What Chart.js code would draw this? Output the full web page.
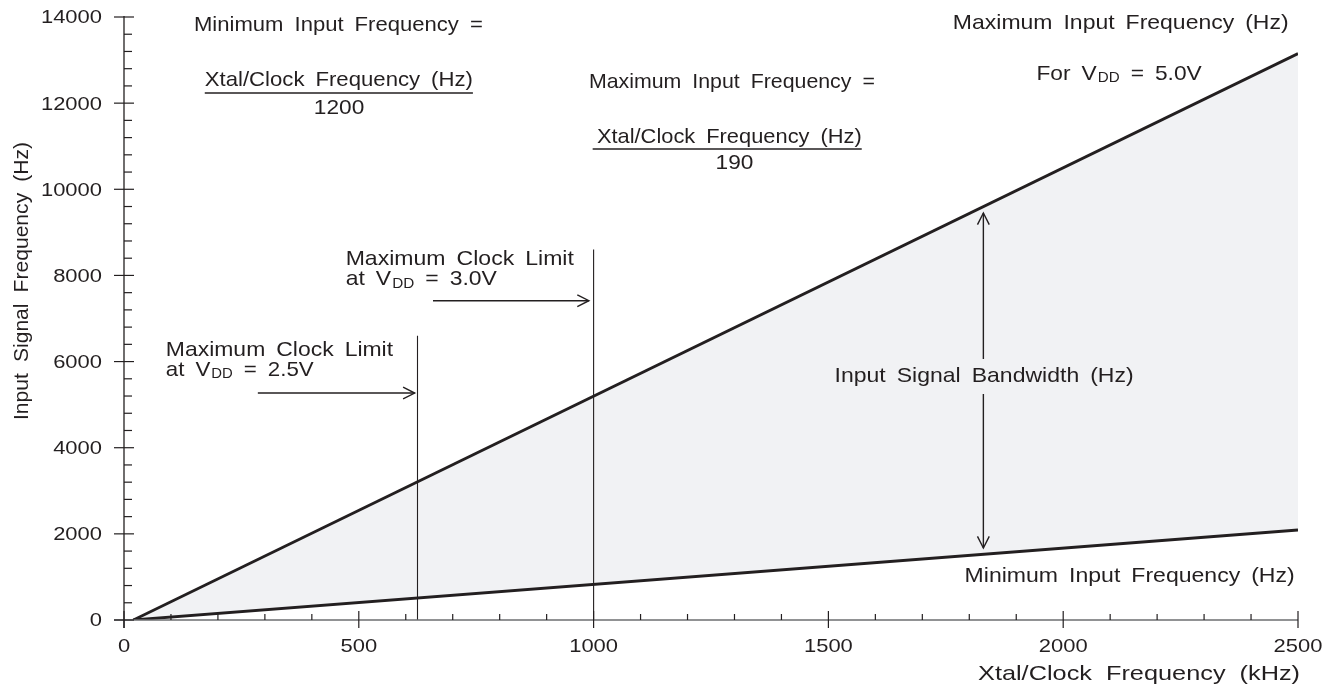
<!DOCTYPE html>
<html>
<head>
<meta charset="utf-8">
<script src="https://cdn.jsdelivr.net/npm/chart.js@4.4.1/dist/chart.umd.min.js"></script>
<style>
html, body { margin: 0; padding: 0; background: #fff; }
canvas { display: block; }
</style>
</head>
<body>
<canvas id="chart" width="1340" height="686"></canvas>
<script>
// values
const clockKHz = [20, 2500];
const maxInputHz = [0, 13150];
const minInputHz = [0, 2090];
const limit25KHz = [625, 625];
const limit25Hz = [0, 6600];
const limit30KHz = [1000, 1000];
const limit30Hz = [0, 8600];

const xTickValues = [0, 500, 1000, 1500, 2000, 2500];
const yTickValues = [0, 2000, 4000, 6000, 8000, 10000, 12000, 14000];
const xMinorStep = 100;
const yMinorStep = 400;

const ink = '#231f20';
const fam = '"Liberation Sans", Arial, sans-serif';

function pts(xs, ys) {
  return xs.map((x, i) => ({ x: x, y: ys[i] }));
}

// text in the figure is drawn a bit wide, with big gaps between words
function wordWidth(ctx, w, size) {
  const parts = w.split('_');
  ctx.font = size + 'px ' + fam;
  let wd = ctx.measureText(parts[0]).width;
  if (parts[1]) {
    ctx.font = Math.round(size * 0.68) + 'px ' + fam;
    wd += ctx.measureText(parts[1]).width + 1;
  }
  return wd;
}

function drawWords(ctx, text, x1, x2, yc, size, gap) {
  const words = text.split(' ');
  const widths = words.map(w => wordWidth(ctx, w, size));
  const total = widths.reduce((a, b) => a + b, 0);
  const sx = (x2 - x1 - gap * (words.length - 1)) / total;
  const base = yc + size * 0.358;
  let cx = x1;
  words.forEach((w, i) => {
    const parts = w.split('_');
    ctx.save();
    ctx.translate(cx, base);
    ctx.scale(sx, 1);
    ctx.font = size + 'px ' + fam;
    ctx.fillText(parts[0], 0, 0);
    if (parts[1]) {
      ctx.font = size + 'px ' + fam;
      const mw = ctx.measureText(parts[0]).width + 1;
      ctx.font = Math.round(size * 0.68) + 'px ' + fam;
      ctx.fillText(parts[1], mw, size * 0.14);
    }
    ctx.restore();
    cx += widths[i] * sx + gap;
  });
}

function drawLabel(ctx, text, x, yc, size, sx, align) {
  ctx.font = size + 'px ' + fam;
  const w = ctx.measureText(text).width * sx;
  let x1 = x - w / 2;
  if (align == 'right') x1 = x - w;
  ctx.save();
  ctx.translate(x1, yc + size * 0.358);
  ctx.scale(sx, 1);
  ctx.fillText(text, 0, 0);
  ctx.restore();
}

function arrowHead(ctx, fx, fy, tx, ty) {
  const a = Math.atan2(ty - fy, tx - fx);
  const len = 13, half = 0.47;
  ctx.beginPath();
  ctx.moveTo(tx - len * Math.cos(a - half), ty - len * Math.sin(a - half));
  ctx.lineTo(tx, ty);
  ctx.lineTo(tx - len * Math.cos(a + half), ty - len * Math.sin(a + half));
  ctx.stroke();
}

function line(ctx, x1, y1, x2, y2) {
  ctx.beginPath();
  ctx.moveTo(x1, y1);
  ctx.lineTo(x2, y2);
  ctx.stroke();
}

// annotation text: text, left kHz, right kHz, centre Hz
const notes = [
  ['Minimum Input Frequency =', 149, 764, 13838],
  ['Xtal/Clock Frequency (Hz)', 172, 743, 12561],
  ['Maximum Input Frequency =', 990, 1599, 12515],
  ['Xtal/Clock Frequency (Hz)', 1007, 1571, 11249],
  ['Maximum Input Frequency (Hz)', 1765, 2480, 13896],
  ['For V_DD = 5.0V', 1943, 2295, 12723],
  ['Maximum Clock Limit', 472, 958, 8417],
  ['at V_DD = 3.0V', 472, 794, 7952],
  ['Maximum Clock Limit', 89, 573, 6304],
  ['at V_DD = 2.5V', 89, 404, 5851],
  ['Input Signal Bandwidth (Hz)', 1513, 2150, 5700],
  ['Minimum Input Frequency (Hz)', 1790, 2493, 1068]
];

const figurePlugin = {
  id: 'figure',
  afterDraw(chart) {
    const ctx = chart.ctx;
    const xs = chart.scales.x, ys = chart.scales.y;
    const X = v => xs.getPixelForValue(v);
    const Y = v => ys.getPixelForValue(v);
    const x0 = X(0), xEnd = X(2500), y0 = Y(0), yTop = Y(14000);

    ctx.save();
    ctx.fillStyle = ink;
    ctx.strokeStyle = ink;
    ctx.textAlign = 'left';
    ctx.textBaseline = 'alphabetic';

    // axes
    ctx.lineWidth = 1.3;
    ctx.strokeStyle = '#6d6e71';
    line(ctx, x0 - 10, y0, xEnd, y0);
    ctx.strokeStyle = ink;
    line(ctx, x0, yTop - 1, x0, y0 + 8);

    ctx.lineWidth = 1.2;
    for (let v = 0; v <= 14000; v += yMinorStep) {
      if (v % 2000 == 0) continue;
      line(ctx, x0, Y(v), x0 + 8, Y(v));
    }
    yTickValues.forEach(v => line(ctx, x0 - 10, Y(v), x0 + 10, Y(v)));
    for (let v = 0; v <= 2500; v += xMinorStep) {
      if (v % 500 == 0) continue;
      line(ctx, X(v), y0 - 6, X(v), y0);
    }
    xTickValues.forEach(v => line(ctx, X(v), y0 - 9, X(v), y0 + 8));

    // tick labels
    yTickValues.forEach(v => drawLabel(ctx, String(v), x0 - 22, Y(v), 18, 1.22, 'right'));
    xTickValues.forEach(v => drawLabel(ctx, String(v), X(v), y0 + 26, 18, 1.22, 'center'));

    // axis titles
    drawWords(ctx, 'Xtal/Clock Frequency (kHz)', 978, 1300, 672, 21, 14);
    ctx.save();
    ctx.translate(20, 281);
    ctx.rotate(-Math.PI / 2);
    drawWords(ctx, 'Input Signal Frequency (Hz)', -139, 139, 0, 21, 11);
    ctx.restore();

    // annotations
    notes.forEach(n => drawWords(ctx, n[0], X(n[1]), X(n[2]), Y(n[3]), 21, 11));
    drawLabel(ctx, '1200', X(458), Y(11934), 21, 1.08, 'center');
    drawLabel(ctx, '190', X(1300), Y(10657), 21, 1.08, 'center');

    // fraction bars
    ctx.lineWidth = 1.5;
    line(ctx, X(172), Y(12236), X(743), Y(12236));
    line(ctx, X(998), Y(10936), X(1571), Y(10936));

    // arrows
    ctx.lineWidth = 1.4;
    line(ctx, X(285), Y(5270), X(619), Y(5270));
    arrowHead(ctx, X(285), Y(5270), X(619), Y(5270));
    line(ctx, X(658), Y(7413), X(990), Y(7413));
    arrowHead(ctx, X(658), Y(7413), X(990), Y(7413));

    line(ctx, X(1830), Y(9450), X(1830), Y(6060));
    arrowHead(ctx, X(1830), Y(6060), X(1830), Y(9450));
    line(ctx, X(1830), Y(5247), X(1830), Y(1672));
    arrowHead(ctx, X(1830), Y(5247), X(1830), Y(1672));

    ctx.restore();
  }
};

new Chart(document.getElementById('chart'), {
  type: 'line',
  data: {
    datasets: [
      {
        label: 'Maximum Input Frequency',
        data: pts(clockKHz, maxInputHz),
        borderColor: ink,
        borderWidth: 2.8,
        backgroundColor: '#f1f2f4',
        fill: '+1',
        pointRadius: 0
      },
      {
        label: 'Minimum Input Frequency',
        data: pts(clockKHz, minInputHz),
        borderColor: ink,
        borderWidth: 2.8,
        fill: false,
        pointRadius: 0
      },
      {
        label: 'Clock limit 2.5V',
        data: pts(limit25KHz, limit25Hz),
        borderColor: ink,
        borderWidth: 1.1,
        fill: false,
        pointRadius: 0
      },
      {
        label: 'Clock limit 3.0V',
        data: pts(limit30KHz, limit30Hz),
        borderColor: ink,
        borderWidth: 1.1,
        fill: false,
        pointRadius: 0
      }
    ]
  },
  options: {
    responsive: false,
    animation: false,
    devicePixelRatio: 1,
    layout: { padding: { left: 124, right: 42, top: 17, bottom: 66 } },
    plugins: {
      legend: { display: false },
      tooltip: { enabled: false },
      filler: { drawTime: 'beforeDatasetsDraw' }
    },
    scales: {
      x: { type: 'linear', min: 0, max: 2500, display: false },
      y: { type: 'linear', min: 0, max: 14000, display: false }
    }
  },
  plugins: [figurePlugin]
});
</script>
</body>
</html>
